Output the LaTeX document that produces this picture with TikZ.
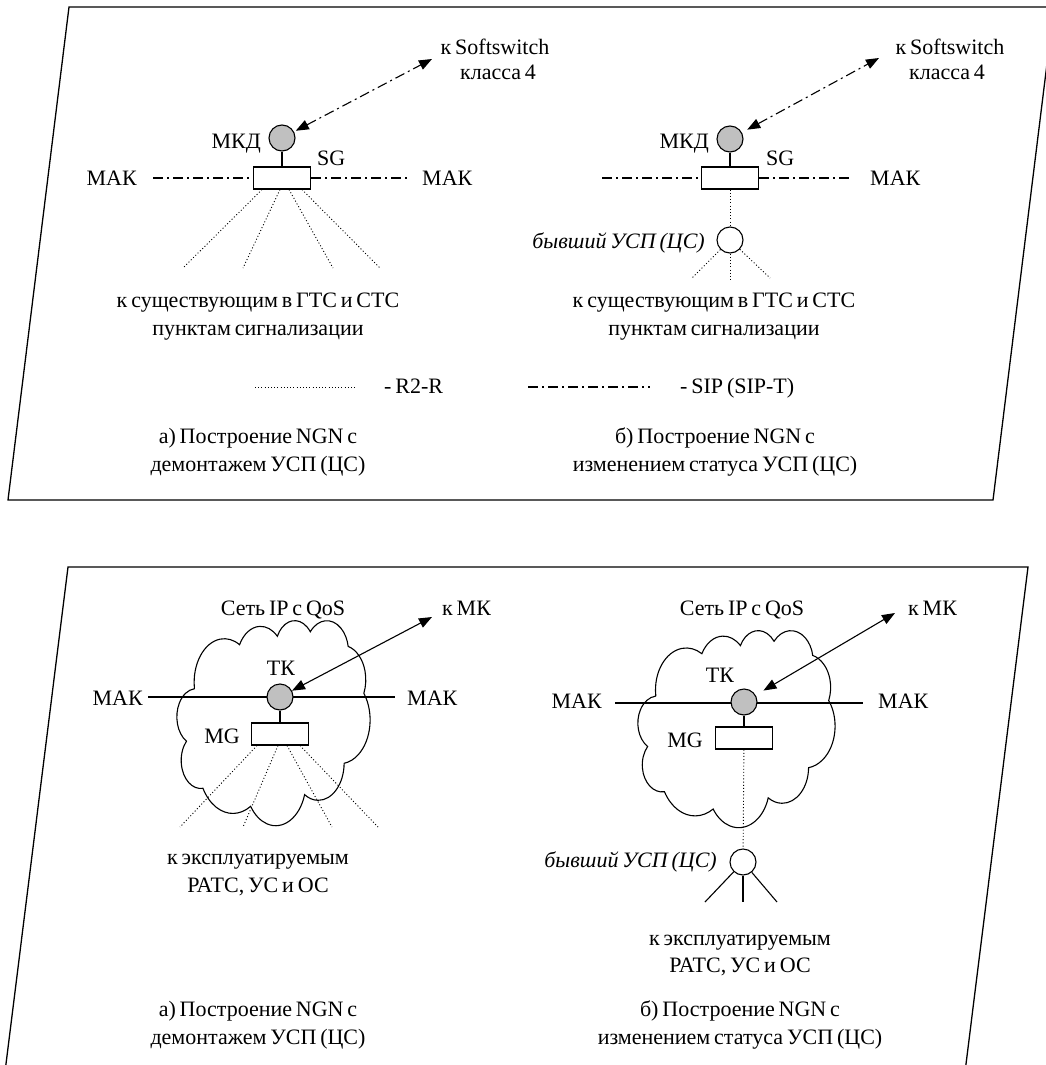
\documentclass[tikz,border=0pt]{standalone}
\usepackage{fontspec}
\setmainfont[WordSpace=0.7]{Liberation Serif}
\usetikzlibrary{arrows.meta}
\definecolor{hubgray}{RGB}{192,192,192}
\tikzset{
  txt/.style={font=\fontsize{22}{28}\selectfont, inner sep=0pt, anchor=base},
  ittxt/.style={txt, font=\fontsize{22}{28}\selectfont\itshape},
  frame/.style={line width=1.3pt, line join=miter},
  wire/.style={line width=1.1pt},
  sipline/.style={line width=1.1pt, dash pattern=on 10pt off 4pt on 2pt off 4pt},
  r2line/.style={line width=0.9pt, dash pattern=on 1pt off 2.2pt},
  hub/.style={circle, draw, line width=1.1pt, fill=hubgray, minimum size=26pt, inner sep=0pt},
  oldhub/.style={circle, draw, line width=1.1pt, fill=white, minimum size=26pt, inner sep=0pt},
  gw/.style={rectangle, draw, line width=1.1pt, fill=white, minimum width=57pt, minimum height=22pt, inner sep=0pt},
  duplex/.style={{Triangle[length=13pt,width=10pt]}-{Triangle[length=13pt,width=10pt]}},
}
% Cloud outline inside a 432 x 432 box (y pointing down)
\newcommand\cloudoutline{(39.00,143.70)
  arc[start angle=172.25, delta angle=128.11, x radius=67.53, y radius=91.90]
  arc[start angle=-152.06, delta angle=106.63, x radius=53.33, y radius=72.67]
  arc[start angle=-153.49, delta angle=116.15, x radius=43.65, y radius=59.45]
  arc[start angle=-139.72, delta angle=129.51, x radius=48.57, y radius=65.95]
  arc[start angle=-74.77, delta angle=97.98, x radius=53.33, y radius=72.73]
  arc[start angle=-37.51, delta angle=119.37, x radius=67.75, y radius=92.20]
  arc[start angle=0.46, delta angle=121.52, x radius=57.85, y radius=78.67]
  arc[start angle=16.84, delta angle=129.38, x radius=67.52, y radius=92.15]
  arc[start angle=58.98, delta angle=91.22, x radius=77.20, y radius=105.43]
  arc[start angle=83.31, delta angle=139.81, x radius=43.60, y radius=59.18]
  arc[start angle=120.36, delta angle=143.75, x radius=43.45, y radius=59.45]
  -- cycle}
\begin{document}
\begin{tikzpicture}[x=1pt, y=-1pt]
\useasboundingbox (0,0) rectangle (1046,1065);
% panel frames
\begin{scope}
  \clip (0,0) rectangle (1046,1065);
  \draw[frame] (69,7) -- (1054,7) -- (993,500) -- (8,500) -- cycle;
  \draw[frame] (68,567) -- (1028,567) -- (964,1080) -- (4,1080) -- cycle;
\end{scope}

% ===== upper panel, variant a =====
\node[hub] (mkdA) at (282,138) {};
\node[gw] (sgA) at (282,178) {};
\draw[wire] (mkdA) -- (sgA);
\node[txt, anchor=base east] (mkdAt) at (261,148) {МКД};
\node[txt, anchor=base west] (sgAt) at (317,165) {SG};
\node[txt, anchor=base east] (makAl) at (137,185) {МАК};
\node[txt, anchor=base west] (makAr) at (422,185) {МАК};
\coordinate (sipAl) at (153,178);
\coordinate (sipAr) at (410,178);
\draw[sipline] (sipAl) -- (sgA.west);
\draw[sipline] (sgA.east) -- (sipAr);
\coordinate (ssA) at (432,59);
\draw[sipline, duplex, shorten <=2pt] (mkdA) -- (ssA);
\node[txt] (ssAt1) at (495,55) {к Softswitch};
\node[txt] (ssAt2) at (498,80) {класса 4};
\coordinate (fA1) at (183,268);
\coordinate (fA2) at (243,268);
\coordinate (fA3) at (333,268);
\coordinate (fA4) at (380,268);
\draw[r2line] ([xshift=-20pt]sgA.south) -- (fA1);
\draw[r2line] ([xshift=-2pt]sgA.south) -- (fA2);
\draw[r2line] ([xshift=7pt]sgA.south) -- (fA3);
\draw[r2line] ([xshift=20pt]sgA.south) -- (fA4);
\node[txt] (exA1) at (258,307) {к существующим в ГТС и СТС};
\node[txt] (exA2) at (258,335) {пунктам сигнализации};

% ===== upper panel, variant b =====
\node[hub] (mkdB) at (730,139) {};
\node[gw] (sgB) at (730,178) {};
\node[oldhub] (oldB) at (730,240) {};
\draw[wire] (mkdB) -- (sgB);
\draw[r2line] (sgB) -- (oldB);
\node[txt, anchor=base east] (mkdBt) at (709,148) {МКД};
\node[txt, anchor=base west] (sgBt) at (766,165) {SG};
\node[txt, anchor=base west] (makBr) at (870,185) {МАК};
\coordinate (sipBl) at (602,178);
\coordinate (sipBr) at (853,178);
\draw[sipline] (sipBl) -- (sgB.west);
\draw[sipline] (sgB.east) -- (sipBr);
\coordinate (ssB) at (879,58);
\draw[sipline, duplex, shorten <=6pt] (mkdB) -- (ssB);
\node[txt] (ssBt1) at (950,55) {к Softswitch};
\node[txt] (ssBt2) at (947,80) {класса 4};
\node[ittxt, anchor=base east] (oldBt) at (705,248) {бывший УСП (ЦС)};
\coordinate (fB1) at (692,278);
\coordinate (fB2) at (730,281);
\coordinate (fB3) at (770,278);
\draw[r2line] (oldB) -- (fB1);
\draw[r2line] (oldB) -- (fB2);
\draw[r2line] (oldB) -- (fB3);
\node[txt] (exB1) at (714,307) {к существующим в ГТС и СТС};
\node[txt] (exB2) at (714,335) {пунктам сигнализации};

% legend
\coordinate (legRa) at (255,387);
\coordinate (legRb) at (355,387);
\draw[r2line] (legRa) -- (legRb);
\node[txt, anchor=base west] (legRt) at (384,393) {- R2-R};
\coordinate (legSa) at (528,387);
\coordinate (legSb) at (650,387);
\draw[sipline] (legSa) -- (legSb);
\node[txt, anchor=base west] (legSt) at (680,393) {- SIP (SIP-T)};

% captions
\node[txt] (capA1) at (258,443) {а) Построение NGN с};
\node[txt] (capA2) at (258,471) {демонтажем УСП (ЦС)};
\node[txt] (capB1) at (715,443) {б) Построение NGN с};
\node[txt] (capB2) at (715,471) {изменением статуса УСП (ЦС)};

% ===== lower panel, variant a =====
\begin{scope}[shift={(177,620)}, x=0.4468pt, y=-0.4745pt]
  \draw[wire] \cloudoutline;
\end{scope}
\node[txt] (ipA) at (283,615) {Сеть IP с QoS};
\coordinate (makCl) at (148,697);
\coordinate (makCr) at (395,697);
\draw[wire] (makCl) -- (makCr);
\node[hub] (tkA) at (280,697) {};
\node[gw] (mgA) at (280,734) {};
\draw[wire] (tkA) -- (mgA);
\node[txt] (tkAt) at (281,675) {ТК};
\node[txt, anchor=base east] (mgAt) at (240,743) {MG};
\node[txt, anchor=base east] (makClt) at (143,705) {МАК};
\node[txt, anchor=base west] (makCrt) at (407,705) {МАК};
\coordinate (mkA) at (432,617);
\draw[wire, duplex] (tkA) -- (mkA);
\node[txt, anchor=base west] (mkAt) at (442,615) {к МК};
\coordinate (gA1) at (180,827);
\coordinate (gA2) at (243,827);
\coordinate (gA3) at (332,827);
\coordinate (gA4) at (378,827);
\draw[r2line] ([xshift=-23pt]mgA.south) -- (gA1);
\draw[r2line] ([xshift=-2pt]mgA.south) -- (gA2);
\draw[r2line] ([xshift=7pt]mgA.south) -- (gA3);
\draw[r2line] ([xshift=20pt]mgA.south) -- (gA4);
\node[txt] (opA1) at (258,864) {к эксплуатируемым};
\node[txt] (opA2) at (258,892) {РАТС, УС и ОС};
\node[txt] (capC1) at (258,1016) {а) Построение NGN с};
\node[txt] (capC2) at (258,1044) {демонтажем УСП (ЦС)};

% ===== lower panel, variant b =====
\begin{scope}[shift={(638,630)}, x=0.4560pt, y=-0.4560pt]
  \draw[wire] \cloudoutline;
\end{scope}
\node[txt] (ipB) at (742,615) {Сеть IP с QoS};
\coordinate (makDl) at (615,703);
\coordinate (makDr) at (863,703);
\draw[wire] (makDl) -- (makDr);
\node[hub] (tkB) at (744,702) {};
\node[gw] (mgB) at (744,738) {};
\draw[wire] (tkB) -- (mgB);
\node[txt] (tkBt) at (720,682) {ТК};
\node[txt, anchor=base east] (mgBt) at (703,747) {MG};
\node[txt, anchor=base east] (makDlt) at (602,708) {МАК};
\node[txt, anchor=base west] (makDrt) at (878,708) {МАК};
\coordinate (mkB) at (895,613);
\draw[wire, duplex, shorten <=9pt] (tkB) -- (mkB);
\node[txt, anchor=base west] (mkBt) at (908,615) {к МК};
\node[oldhub] (oldD) at (743,862) {};
\draw[r2line] (mgB) -- (oldD);
\node[ittxt, anchor=base east] (oldDt) at (717,867) {бывший УСП (ЦС)};
\coordinate (hD1) at (705,902);
\coordinate (hD2) at (743,902);
\coordinate (hD3) at (777,902);
\draw[wire] (oldD) -- (hD1);
\draw[wire] (oldD) -- (hD2);
\draw[wire] (oldD) -- (hD3);
\node[txt] (opB1) at (740,945) {к эксплуатируемым};
\node[txt] (opB2) at (740,972) {РАТС, УС и ОС};
\node[txt] (capD1) at (740,1016) {б) Построение NGN с};
\node[txt] (capD2) at (740,1044) {изменением статуса УСП (ЦС)};
\end{tikzpicture}
\end{document}
